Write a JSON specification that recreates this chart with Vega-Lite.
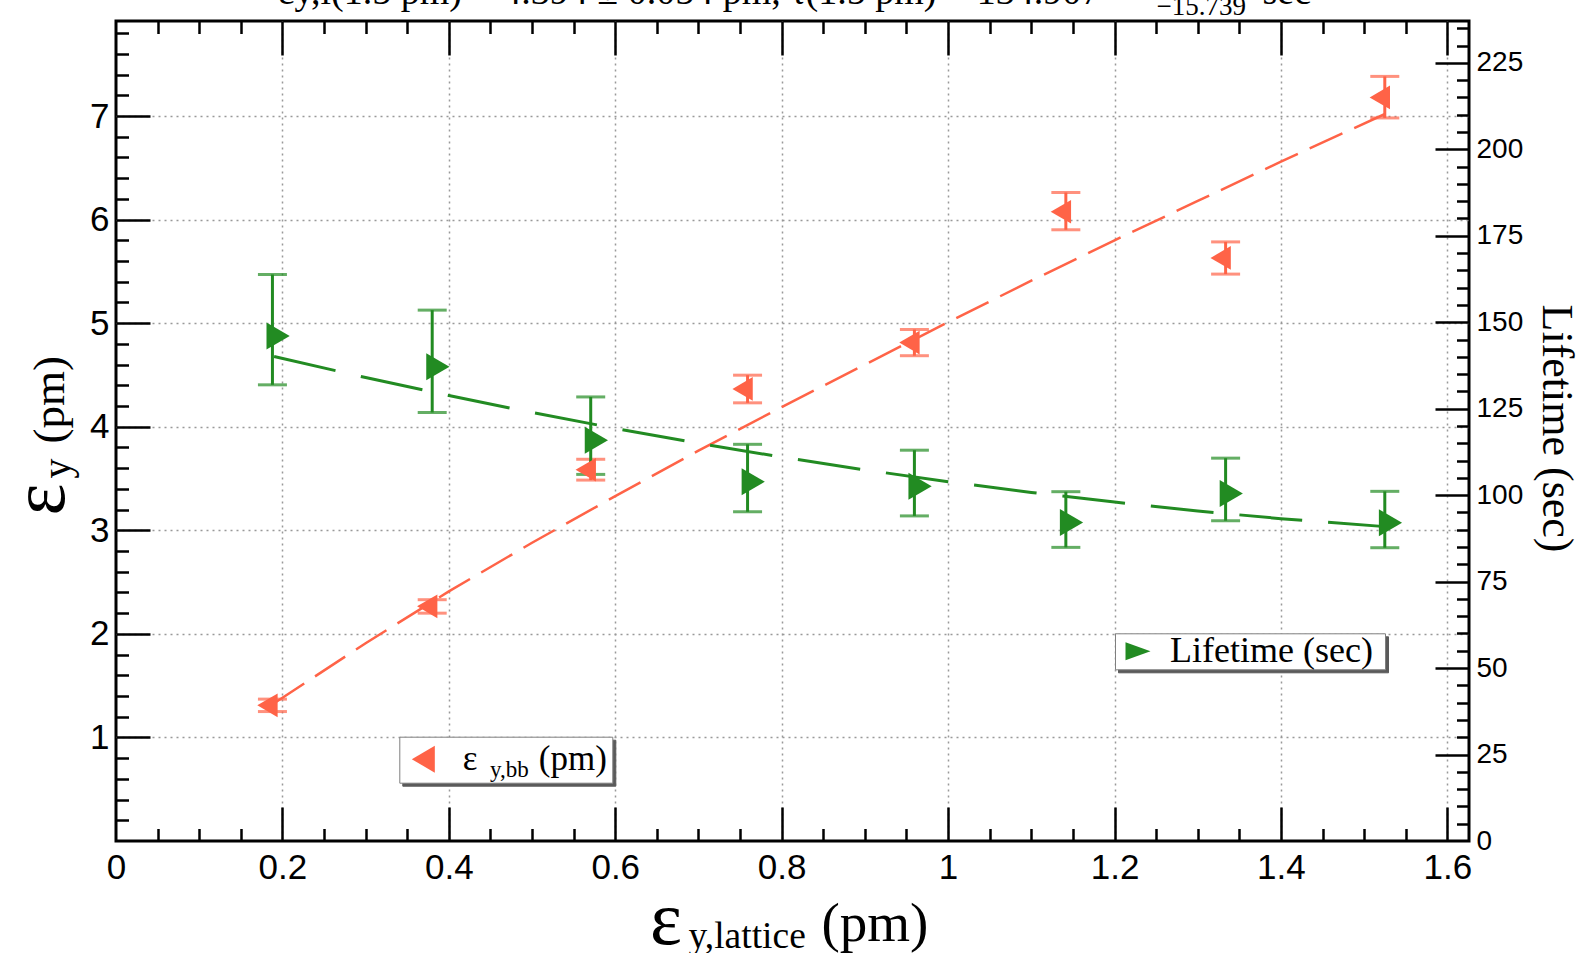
{
  "$schema": "https://vega.github.io/schema/vega-lite/v6.json",
  "width": 1353,
  "height": 820,
  "autosize": {"type": "none"},
  "padding": {"left": 116, "top": 21, "right": 110, "bottom": 112},
  "background": "white",
  "config": {
    "view": {"stroke": "black", "strokeWidth": 3},
    "axis": {
      "domain": false, "labelFlush": false, "labelOverlap": false, "labelBound": false,
      "labelFont": "Liberation Sans", "labelColor": "black", "tickColor": "black", "tickWidth": 2.5,
      "titleFont": "Liberation Serif", "titleFontWeight": "normal", "titleColor": "black",
      "grid": false, "gridColor": "#999999", "gridDash": [2, 4], "gridWidth": 1.5
    }
  },
  "datasets": {
    "bb": [
      {"x": 0.188, "y": 1.31, "lo": 1.25, "hi": 1.37, "series": "bb"},
      {"x": 0.380, "y": 2.266, "lo": 2.2, "hi": 2.33, "series": "bb"},
      {"x": 0.5705, "y": 3.585, "lo": 3.485, "hi": 3.686, "series": "bb"},
      {"x": 0.759, "y": 4.365, "lo": 4.231, "hi": 4.498, "series": "bb"},
      {"x": 0.9595, "y": 4.813, "lo": 4.686, "hi": 4.939, "series": "bb"},
      {"x": 1.1415, "y": 6.076, "lo": 5.902, "hi": 6.262, "series": "bb"},
      {"x": 1.3335, "y": 5.63, "lo": 5.474, "hi": 5.785, "series": "bb"},
      {"x": 1.5248, "y": 7.18, "lo": 6.982, "hi": 7.383, "series": "bb"}
    ],
    "life": [
      {"x": 0.188, "t": 146.0, "lo": 131.9, "hi": 163.8, "series": "life"},
      {"x": 0.380, "t": 137.1, "lo": 123.9, "hi": 153.5, "series": "life"},
      {"x": 0.5705, "t": 115.9, "lo": 106.0, "hi": 128.4, "series": "life"},
      {"x": 0.759, "t": 103.9, "lo": 95.2, "hi": 114.7, "series": "life"},
      {"x": 0.9595, "t": 102.6, "lo": 94.0, "hi": 113.0, "series": "life"},
      {"x": 1.1415, "t": 92.1, "lo": 84.9, "hi": 101.0, "series": "life"},
      {"x": 1.3335, "t": 100.5, "lo": 92.6, "hi": 110.7, "series": "life"},
      {"x": 1.5248, "t": 92.0, "lo": 84.8, "hi": 101.1, "series": "life"}
    ],
    "bbfit": [
      {"x": 0.19, "y": 1.33}, {"x": 0.3, "y": 1.91}, {"x": 0.4, "y": 2.41}, {"x": 0.5, "y": 2.88},
      {"x": 0.6, "y": 3.33}, {"x": 0.7, "y": 3.77}, {"x": 0.8, "y": 4.19}, {"x": 0.9, "y": 4.6},
      {"x": 1.0, "y": 5.01}, {"x": 1.1, "y": 5.41}, {"x": 1.2, "y": 5.8}, {"x": 1.3, "y": 6.18},
      {"x": 1.4, "y": 6.56}, {"x": 1.525, "y": 7.02}
    ],
    "lifefit": [
      {"x": 0.19, "t": 140.1}, {"x": 0.3, "t": 134.0}, {"x": 0.4, "t": 128.8}, {"x": 0.5, "t": 123.9},
      {"x": 0.6, "t": 119.3}, {"x": 0.7, "t": 115.0}, {"x": 0.8, "t": 111.0}, {"x": 0.9, "t": 107.3},
      {"x": 1.0, "t": 103.9}, {"x": 1.1, "t": 100.8}, {"x": 1.2, "t": 98.0}, {"x": 1.3, "t": 95.4},
      {"x": 1.4, "t": 93.2}, {"x": 1.525, "t": 90.9}
    ]
  },
  "resolve": {
    "scale": {"x": "independent", "y": "independent", "color": "independent"},
    "legend": {"color": "independent"}
  },
  "layer": [
    {
      "data": {"name": "bbfit"},
      "mark": {"type": "line", "color": "#ff6347", "strokeWidth": 2.5, "strokeDash": [36, 13]},
      "encoding": {
        "x": {"field": "x", "type": "quantitative", "scale": {"domain": [0, 1.626], "nice": false, "zero": false},
          "axis": {"orient": "bottom", "offset": -820, "values": [0.2, 0.4, 0.6, 0.8, 1, 1.2, 1.4, 1.6], "labels": false, "ticks": true, "tickSize": 34, "title": null}},
        "y": {"field": "y", "type": "quantitative", "scale": {"domain": [0, 7.918], "nice": false, "zero": false},
          "axis": {"orient": "left", "labels": false, "ticks": false, "title": "ε", "titleFontSize": 76, "titleAngle": -90, "titleX": -53, "titleY": 494, "titleAlign": "left", "titleBaseline": "alphabetic"}}
      }
    },
    {
      "data": {"name": "lifefit"},
      "mark": {"type": "line", "color": "#228b22", "strokeWidth": 3, "strokeDash": [63, 26]},
      "encoding": {
        "x": {"field": "x", "type": "quantitative", "scale": {"domain": [0, 1.626], "nice": false, "zero": false},
          "axis": {"orient": "bottom", "offset": -820, "values": [0.05, 0.1, 0.15, 0.25, 0.3, 0.35, 0.45, 0.5, 0.55, 0.65, 0.7, 0.75, 0.85, 0.9, 0.95, 1.05, 1.1, 1.15, 1.25, 1.3, 1.35, 1.45, 1.5, 1.55], "labels": false, "ticks": true, "tickSize": 12.5, "title": null}},
        "y": {"field": "t", "type": "quantitative", "scale": {"domain": [0, 237.1], "nice": false, "zero": false},
          "axis": {"orient": "left", "offset": -1353, "values": [25, 50, 75, 100, 125, 150, 175, 200, 225], "labels": false, "ticks": true, "tickSize": 34, "title": null}}
      }
    },
    {
      "data": {"name": "bb"},
      "mark": {"type": "rule", "color": "#ff6347", "strokeWidth": 3},
      "encoding": {
        "x": {"field": "x", "type": "quantitative", "scale": {"domain": [0, 1.626], "nice": false, "zero": false},
          "axis": {"orient": "bottom", "values": [0, 0.2, 0.4, 0.6, 0.8, 1, 1.2, 1.4, 1.6], "format": "~g", "labels": true, "labelFontSize": 35, "labelPadding": 9, "ticks": false, "title": "(pm)", "titleFontSize": 55, "titleX": 705, "titleY": 99, "titleAlign": "left", "titleBaseline": "alphabetic", "titleAngle": 0}},
        "y": {"field": "lo", "type": "quantitative", "scale": {"domain": [0, 7.918], "nice": false, "zero": false},
          "axis": {"orient": "left", "values": [1, 2, 3, 4, 5, 6, 7], "labels": true, "labelFontSize": 35, "labelPadding": 7, "ticks": false, "grid": true, "title": "(pm)", "titleFontSize": 45, "titleAngle": -90, "titleX": -53, "titleY": 422, "titleAlign": "left", "titleBaseline": "alphabetic"}},
        "y2": {"field": "hi"}
      }
    },
    {
      "data": {"name": "bb"},
      "mark": {"type": "tick", "orient": "horizontal", "size": 29, "thickness": 3},
      "encoding": {
        "x": {"field": "x", "type": "quantitative", "scale": {"domain": [0, 1.626], "nice": false, "zero": false},
          "axis": {"orient": "top", "offset": -820, "values": [0.2, 0.4, 0.6, 0.8, 1, 1.2, 1.4, 1.6], "labels": false, "ticks": true, "tickSize": 34, "title": null}},
        "y": {"field": "lo", "type": "quantitative", "scale": {"domain": [0, 7.918], "nice": false, "zero": false},
          "axis": {"orient": "right", "offset": -1353, "values": [1, 2, 3, 4, 5, 6, 7], "labels": false, "ticks": true, "tickSize": 34, "title": null}},
        "color": {"field": "series", "type": "nominal", "scale": {"range": ["#ff6347"]},
          "legend": {"orient": "none", "legendX": 286.3, "legendY": 718.7, "title": null, "labelExpr": "'ε\u00a0\u00a0\u00a0\u00a0\u00a0\u00a0\u00a0(pm)\u00a0'", "labelFont": "Liberation Serif", "labelFontSize": 35, "labelLimit": 400, "labelOpacity": 0, "symbolOpacity": 0, "symbolType": "M1.15,-1.35L-1.15,0L1.15,1.35Z", "symbolSize": 400, "symbolStrokeWidth": 0, "symbolOffset": 1.5, "labelOffset": 22, "padding": 5, "fillColor": "#5a5a5a", "strokeColor": "#5a5a5a", "zindex": 1}}
      }
    },
    {
      "data": {"name": "bb"},
      "mark": {"type": "tick", "orient": "horizontal", "size": 29, "thickness": 3},
      "encoding": {
        "x": {"field": "x", "type": "quantitative", "scale": {"domain": [0, 1.626], "nice": false, "zero": false},
          "axis": {"orient": "top", "offset": -820, "values": [0.05, 0.1, 0.15, 0.25, 0.3, 0.35, 0.45, 0.5, 0.55, 0.65, 0.7, 0.75, 0.85, 0.9, 0.95, 1.05, 1.1, 1.15, 1.25, 1.3, 1.35, 1.45, 1.5, 1.55], "labels": false, "ticks": true, "tickSize": 12.5, "title": null}},
        "y": {"field": "hi", "type": "quantitative", "scale": {"domain": [0, 7.918], "nice": false, "zero": false},
          "axis": {"orient": "right", "offset": -1353, "values": [0.2, 0.4, 0.6, 0.8, 1.2, 1.4, 1.6, 1.8, 2.2, 2.4, 2.6, 2.8, 3.2, 3.4, 3.6, 3.8, 4.2, 4.4, 4.6, 4.8, 5.2, 5.4, 5.6, 5.8, 6.2, 6.4, 6.6, 6.8, 7.2, 7.4, 7.6, 7.8], "labels": false, "ticks": true, "tickSize": 12.5, "title": null}},
        "color": {"field": "series", "type": "nominal", "scale": {"range": ["#ff6347"]},
          "legend": {"orient": "none", "legendX": 288.3, "legendY": 737.6, "title": null, "labelExpr": "'y,bb'", "labelFont": "Liberation Serif", "labelFontSize": 23, "labelColor": "black", "symbolOpacity": 0, "symbolSize": 400, "symbolStrokeWidth": 0, "labelOffset": 62.7, "padding": 0, "zindex": 3}}
      }
    },
    {
      "data": {"name": "life"},
      "mark": {"type": "rule", "color": "#228b22", "strokeWidth": 3},
      "encoding": {
        "x": {"field": "x", "type": "quantitative", "scale": {"domain": [0, 1.626], "nice": false, "zero": false},
          "axis": {"orient": "bottom", "values": [0.2, 0.4, 0.6, 0.8, 1, 1.2, 1.4, 1.6], "labels": false, "ticks": false, "grid": true, "title": "ε", "titleFontSize": 76, "titleX": 533.5, "titleY": 102, "titleAlign": "left", "titleBaseline": "alphabetic", "titleAngle": 0}},
        "y": {"field": "lo", "type": "quantitative", "scale": {"domain": [0, 237.1], "nice": false, "zero": false},
          "axis": {"orient": "left", "offset": -1353, "values": [5, 10, 15, 20, 30, 35, 40, 45, 55, 60, 65, 70, 80, 85, 90, 95, 105, 110, 115, 120, 130, 135, 140, 145, 155, 160, 165, 170, 180, 185, 190, 195, 205, 210, 215, 220, 230, 235], "labels": false, "ticks": true, "tickSize": 12.5, "title": null}},
        "y2": {"field": "hi"}
      }
    },
    {
      "data": {"name": "life"},
      "mark": {"type": "tick", "orient": "horizontal", "size": 29, "thickness": 3},
      "encoding": {
        "x": {"field": "x", "type": "quantitative", "scale": {"domain": [0, 1.626], "nice": false, "zero": false},
          "axis": {"orient": "bottom", "labels": false, "ticks": false, "title": "y,lattice", "titleFontSize": 37.5, "titleX": 572, "titleY": 106, "titleAlign": "left", "titleBaseline": "alphabetic", "titleAngle": 0}},
        "y": {"field": "lo", "type": "quantitative", "scale": {"domain": [0, 237.1], "nice": false, "zero": false},
          "axis": {"orient": "right", "values": [0, 25, 50, 75, 100, 125, 150, 175, 200, 225], "labels": true, "labelFontSize": 28, "labelPadding": 7, "ticks": false, "title": "Lifetime (sec)", "titleFontSize": 44, "titleAngle": 90, "titleX": 73, "titleY": 407, "titleAlign": "center", "titleBaseline": "alphabetic"}},
        "color": {"field": "series", "type": "nominal", "scale": {"range": ["#228b22"]},
          "legend": {"orient": "none", "legendX": 1002, "legendY": 615.3, "title": null, "labelExpr": "'Lifetime (sec)\u00a0\u200a\u2060'", "labelFont": "Liberation Serif", "labelFontSize": 36, "labelLimit": 400, "labelOpacity": 0, "symbolOpacity": 0, "symbolType": "M-1.25,-0.9L1.25,0L-1.25,0.9Z", "symbolSize": 400, "symbolStrokeWidth": 0, "symbolOffset": 5, "labelOffset": 14, "padding": 0, "fillColor": "#5a5a5a", "strokeColor": "#5a5a5a", "zindex": 1}}
      }
    },
    {
      "data": {"name": "life"},
      "mark": {"type": "tick", "orient": "horizontal", "size": 29, "thickness": 3, "color": "#228b22"},
      "encoding": {
        "x": {"field": "x", "type": "quantitative", "scale": {"domain": [0, 1.626], "nice": false, "zero": false},
          "axis": {"orient": "top", "labels": false, "ticks": false, "title": "εy,l(1.5 pm) = 4.394 ± 0.054 pm, τ(1.5 pm) = 134.907", "titleFontSize": 38, "titleX": 162, "titleY": -18, "titleAlign": "left", "titleBaseline": "alphabetic", "titleAngle": 0}},
        "y": {"field": "hi", "type": "quantitative", "scale": {"domain": [0, 237.1], "nice": false, "zero": false}, "axis": null}
      }
    },
    {
      "data": {"name": "bb"},
      "mark": {"type": "point", "shape": "M0.44,-1L-1.28,0L0.44,1Z", "size": 560, "filled": true, "opacity": 1, "strokeWidth": 0},
      "encoding": {
        "x": {"field": "x", "type": "quantitative", "scale": {"domain": [0, 1.626], "nice": false, "zero": false},
          "axis": {"orient": "top", "labels": false, "ticks": false, "title": "−15.739", "titleFontSize": 27, "titleX": 1040, "titleY": -6.5, "titleAlign": "left", "titleBaseline": "alphabetic", "titleAngle": 0}},
        "y": {"field": "y", "type": "quantitative", "scale": {"domain": [0, 7.918], "nice": false, "zero": false},
          "axis": {"orient": "left", "labels": false, "ticks": false, "title": "y", "titleFontSize": 40, "titleAngle": -90, "titleX": -47, "titleY": 457, "titleAlign": "left", "titleBaseline": "alphabetic"}},
        "color": {"field": "series", "type": "nominal", "scale": {"range": ["#ff6347"]},
          "legend": {"orient": "none", "legendX": 283.3, "legendY": 715.7, "title": null, "labelExpr": "'ε\u00a0\u00a0\u00a0\u00a0\u00a0\u00a0\u00a0(pm)\u00a0'", "labelFont": "Liberation Serif", "labelFontSize": 35, "labelColor": "black", "labelLimit": 400, "symbolType": "M1.15,-1.35L-1.15,0L1.15,1.35Z", "symbolSize": 400, "symbolStrokeWidth": 0, "symbolOffset": 1.5, "labelOffset": 22, "padding": 5, "fillColor": "white", "strokeColor": "#7f7f7f", "zindex": 2}}
      }
    },
    {
      "data": {"name": "life"},
      "mark": {"type": "point", "shape": "M-0.44,-1L1.28,0L-0.44,1Z", "size": 729, "filled": true, "opacity": 1, "strokeWidth": 0},
      "encoding": {
        "x": {"field": "x", "type": "quantitative", "scale": {"domain": [0, 1.626], "nice": false, "zero": false},
          "axis": {"orient": "top", "labels": false, "ticks": false, "title": "sec", "titleFontSize": 38, "titleX": 1146, "titleY": -18, "titleAlign": "left", "titleBaseline": "alphabetic", "titleAngle": 0}},
        "y": {"field": "t", "type": "quantitative", "scale": {"domain": [0, 237.1], "nice": false, "zero": false}, "axis": null},
        "color": {"field": "series", "type": "nominal", "scale": {"range": ["#228b22"]},
          "legend": {"orient": "none", "legendX": 999, "legendY": 612.3, "title": null, "labelExpr": "'Lifetime (sec)\u00a0\u200a\u2060'", "labelFont": "Liberation Serif", "labelFontSize": 36, "labelColor": "black", "labelLimit": 400, "symbolType": "M-1.25,-0.9L1.25,0L-1.25,0.9Z", "symbolSize": 400, "symbolStrokeWidth": 0, "symbolOffset": 5, "labelOffset": 14, "padding": 0, "fillColor": "white", "strokeColor": "#7f7f7f", "zindex": 2}}
      }
    }
  ]
}
